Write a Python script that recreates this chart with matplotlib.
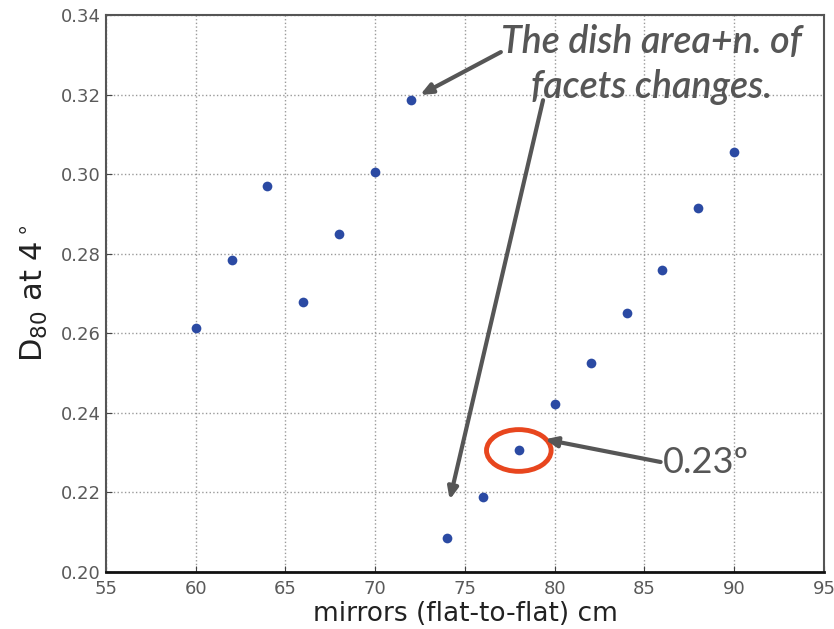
import matplotlib
matplotlib.use("Agg")
import matplotlib.pyplot as plt
from matplotlib.patches import Ellipse

# data
mirror_size = [60, 62, 64, 66, 68, 70, 72, 74, 76, 78, 80, 82, 84, 86, 88, 90]
d80 = [0.2612, 0.2784, 0.2970, 0.2679, 0.2850, 0.3005, 0.3186, 0.2084, 0.2189,
       0.2305, 0.2422, 0.2524, 0.2650, 0.2760, 0.2915, 0.3055]
x_ticks = [55, 60, 65, 70, 75, 80, 85, 90, 95]
y_ticks = [0.20, 0.22, 0.24, 0.26, 0.28, 0.30, 0.32, 0.34]

NOTE_COLOR = "#565656"

fig = plt.figure(figsize=(8.34, 6.29), dpi=100)
ax = fig.add_axes([0.127, 0.091, 0.861, 0.885])

ax.plot(mirror_size, d80, "o", color="#2b4aa3", markersize=7, markeredgewidth=0)

ax.set_xlim(55, 95)
ax.set_ylim(0.20, 0.34)
ax.set_xticks(x_ticks)
ax.set_yticks(y_ticks)
ax.set_xticklabels([str(t) for t in x_ticks])
ax.set_yticklabels([f"{t:.2f}" for t in y_ticks])
ax.tick_params(labelsize=13, labelcolor="#5a5a5a", direction="in", length=4, color="#444444")
ax.tick_params(axis="x", pad=6)
ax.grid(True, linestyle=":", color="#9a9a9a", linewidth=1)
for side in ax.spines.values():
    side.set_color("#555555")
    side.set_linewidth(1.5)
ax.spines["bottom"].set_color("#111111")
ax.spines["bottom"].set_linewidth(2)

ax.set_xlabel("mirrors (flat-to-flat) cm", fontsize=19, color="#222222", labelpad=2)
ax.set_ylabel(r"D$_{80}$ at 4$^\circ$", fontsize=22, color="#222222", labelpad=8)

# annotations
arrow = dict(arrowstyle="-|>,head_length=0.7,head_width=0.3", color=NOTE_COLOR, lw=3,
             shrinkA=0, shrinkB=0)
ax.text(85.4, 0.3275, "The dish area+n. of\nfacets changes.", ha="center", va="center",
        fontsize=27, style="italic", weight="semibold", family="Lato", color=NOTE_COLOR,
        linespacing=1.3)
ax.annotate("", xy=(72.5, 0.3199), xytext=(77.0, 0.3307), arrowprops=arrow)
ax.annotate("", xy=(74.15, 0.2181), xytext=(79.35, 0.3186), arrowprops=arrow)
ax.annotate("", xy=(79.45, 0.2333), xytext=(85.9, 0.2276), arrowprops=arrow)
ax.text(86.0, 0.2276, "0.23º", ha="left", va="center", fontsize=26, family="Lato",
        color=NOTE_COLOR)

ax.add_patch(Ellipse((78.0, 0.2305), width=3.6, height=0.0105, fill=False,
                     edgecolor="#e8461e", linewidth=3.5))

fig.savefig("out.png", dpi=100)
